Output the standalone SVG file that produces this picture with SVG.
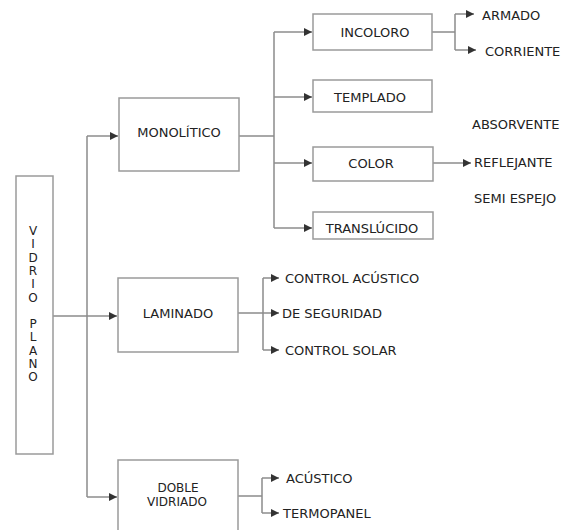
<svg xmlns="http://www.w3.org/2000/svg" width="570" height="530" viewBox="0 0 570 530">
<defs>
<marker id="ah" viewBox="0 0 10 10" refX="10" refY="5" markerWidth="8" markerHeight="8" markerUnits="userSpaceOnUse" orient="auto">
<path d="M0,0 L10,5 L0,10 z" fill="#333"/>
</marker>
<style>
.box{fill:#fff;stroke:#9a9a9a;stroke-width:1.5}
.ln{fill:none;stroke:#8c8c8c;stroke-width:1.5}
.ar{fill:none;stroke:#8c8c8c;stroke-width:1.5;marker-end:url(#ah)}
text{font-family:"DejaVu Sans",Verdana,sans-serif;font-size:13px;fill:#222}
.c{text-anchor:middle}
.v{font-size:12px}
</style>
</defs>
<rect width="570" height="530" fill="#fff"/>
<g id="connectors">
<path class="ln" d="M53,316 H87 M87,136 V497"/>
<path class="ar" d="M87,316 H117"/>
<path class="ar" d="M87,136 H118"/>
<path class="ar" d="M87,497 H117"/>
<path class="ln" d="M239,136 H274 M274,32 V228"/>
<path class="ar" d="M274,32 H312"/>
<path class="ar" d="M274,97 H312"/>
<path class="ar" d="M274,163 H312"/>
<path class="ar" d="M274,228 H312"/>
<path class="ln" d="M432,32 H455 M455,14 V50"/>
<path class="ar" d="M455,14 H474"/>
<path class="ar" d="M455,50 H476"/>
<path class="ar" d="M433,163 H471"/>
<path class="ln" d="M238,313 H263 M263,278 V350"/>
<path class="ar" d="M263,278 H279"/>
<path class="ar" d="M263,313 H279"/>
<path class="ar" d="M263,350 H279"/>
<path class="ln" d="M238,496 H262 M262,478 V513"/>
<path class="ar" d="M262,478 H279"/>
<path class="ar" d="M262,513 H279"/>
</g>
<g id="vidrio-plano">
<rect class="box" x="16" y="176" width="37" height="278"/>
<text class="c v" x="33"><tspan x="33" y="235">V</tspan><tspan x="33" y="248.3">I</tspan><tspan x="33" y="261.6">D</tspan><tspan x="33" y="274.9">R</tspan><tspan x="33" y="288.2">I</tspan><tspan x="33" y="301.5">O</tspan><tspan x="33" y="328.1">P</tspan><tspan x="33" y="341.4">L</tspan><tspan x="33" y="354.7">A</tspan><tspan x="33" y="368">N</tspan><tspan x="33" y="381.3">O</tspan></text>
</g>
<g id="monolitico">
<rect class="box" x="119" y="98" width="120" height="73"/>
<text class="c" x="179" y="137">MONOLÍTICO</text>
</g>
<g id="laminado">
<rect class="box" x="118" y="278" width="120" height="74"/>
<text class="c" x="178" y="318">LAMINADO</text>
</g>
<g id="doble-vidriado">
<rect class="box" x="118" y="460" width="120" height="75"/>
<text class="c v" x="178" y="492">DOBLE</text>
<text class="c v" x="177" y="506">VIDRIADO</text>
</g>
<g id="incoloro">
<rect class="box" x="313" y="14" width="119" height="36"/>
<text class="c" x="375" y="37">INCOLORO</text>
</g>
<g id="templado">
<rect class="box" x="313" y="80" width="119" height="32"/>
<text class="c" x="370" y="102">TEMPLADO</text>
</g>
<g id="color">
<rect class="box" x="313" y="147" width="120" height="34"/>
<text class="c" x="371" y="168">COLOR</text>
</g>
<g id="translucido">
<rect class="box" x="313" y="212" width="120" height="27"/>
<text class="c" x="372" y="233">TRANSLÚCIDO</text>
</g>
<g id="armado"><text x="482" y="20">ARMADO</text></g>
<g id="corriente"><text x="485" y="56">CORRIENTE</text></g>
<g id="absorvente"><text x="472" y="129">ABSORVENTE</text></g>
<g id="reflejante"><text x="474" y="167">REFLEJANTE</text></g>
<g id="semi-espejo"><text x="474" y="203">SEMI ESPEJO</text></g>
<g id="control-acustico"><text x="285" y="283">CONTROL ACÚSTICO</text></g>
<g id="de-seguridad"><text x="282" y="318">DE SEGURIDAD</text></g>
<g id="control-solar"><text x="285" y="355">CONTROL SOLAR</text></g>
<g id="acustico"><text x="286" y="483">ACÚSTICO</text></g>
<g id="termopanel"><text x="283" y="518">TERMOPANEL</text></g>
</svg>
